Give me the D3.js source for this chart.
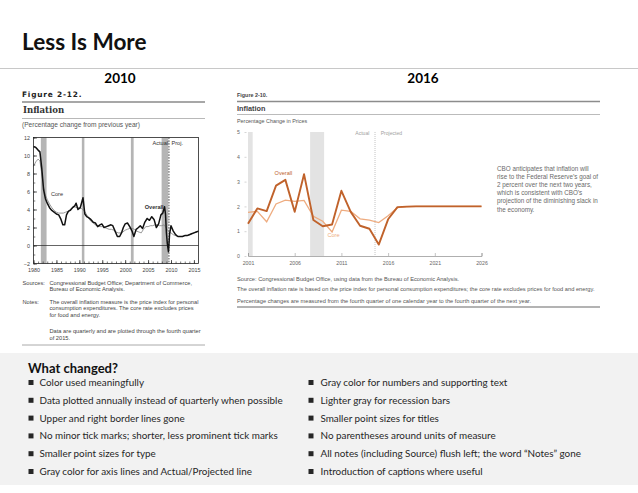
<!DOCTYPE html>
<html>
<head>
<meta charset="utf-8">
<script src="https://cdn.jsdelivr.net/npm/d3@7/dist/d3.min.js"></script>
<style>
  body { margin: 0; background: #fff; }
  svg { display: block; }
</style>
</head>
<body>
<div id="slide"></div>
<script>
// ---------------- 2010 figure ----------------
var oldOverallYears = [1980, 1980.5, 1981, 1981.4, 1981.8, 1982.2, 1982.6, 1983, 1983.5, 1984, 1984.5, 1985, 1985.5,
  1986, 1986.4, 1986.8, 1987.2, 1987.6, 1988, 1988.5, 1989, 1989.3, 1989.7, 1990.2, 1990.8, 1991.2, 1991.6, 1992,
  1992.5, 1993, 1993.5, 1994, 1994.5, 1994.9, 1995.4, 1995.9, 1996.4, 1996.9, 1997.3, 1997.8, 1998.3, 1998.8, 1999.2,
  1999.6, 2000, 2000.5, 2001, 2001.5, 2001.9, 2002.4, 2002.9, 2003.3, 2003.8, 2004.3, 2004.8, 2005.3, 2005.8, 2006.3,
  2006.8, 2007.3, 2007.8, 2008.2, 2008.6, 2008.8, 2009, 2009.2, 2009.45, 2009.7, 2010, 2010.5, 2011, 2011.5, 2012,
  2012.5, 2013, 2013.5, 2014, 2014.5, 2015, 2015.5, 2016];
var oldOverallValues = [11.0, 10.9, 10.6, 10.4, 8.6, 6.2, 5.2, 4.7, 4.2, 3.9, 3.7, 3.5, 3.4,
  2.9, 2.3, 2.3, 3.4, 3.8, 3.9, 4.2, 4.4, 4.7, 4.0, 4.2, 5.3, 3.5, 3.2, 3.1,
  2.9, 2.6, 2.5, 2.1, 2.3, 2.4, 2.0, 2.1, 2.2, 2.3, 2.2, 1.6, 1.0, 1.0, 1.4,
  2.0, 2.4, 2.5, 2.1, 1.6, 1.0, 1.8, 2.0, 2.2, 1.9, 2.6, 3.0, 2.8, 3.2, 2.9,
  2.0, 2.4, 3.4, 3.6, 4.3, 3.5, 1.4, 0.2, -0.7, 1.3, 2.2, 1.6, 1.2, 1.0, 1.0,
  1.0, 1.1, 1.1, 1.2, 1.3, 1.4, 1.5, 1.6];

var oldCoreYears = [1980, 1980.5, 1981, 1981.4, 1981.8, 1982.2, 1982.6, 1983, 1983.5, 1984, 1984.5, 1985, 1985.5,
  1986, 1986.5, 1987, 1987.5, 1988, 1988.5, 1989, 1989.5, 1990, 1990.5, 1991, 1991.5, 1992, 1992.5, 1993, 1993.5,
  1994, 1994.5, 1995, 1995.5, 1996, 1996.5, 1997, 1997.5, 1998, 1998.5, 1999, 1999.5, 2000, 2000.5, 2001, 2001.5,
  2002, 2002.5, 2003, 2003.5, 2004, 2004.5, 2005, 2005.5, 2006, 2006.5, 2007, 2007.5, 2008, 2008.5, 2009, 2009.5,
  2010, 2010.5, 2011, 2011.5, 2012, 2012.5, 2013, 2013.5, 2014, 2014.5, 2015, 2015.5, 2016];
var oldCoreValues = [8.8, 9.3, 9.6, 9.4, 8.0, 6.5, 5.6, 5.1, 4.6, 4.2, 3.9, 3.7, 3.6,
  3.6, 3.6, 3.7, 3.8, 4.0, 4.2, 4.3, 4.2, 4.2, 4.1, 3.9, 3.5, 3.1, 2.7, 2.5, 2.3,
  2.2, 2.1, 2.1, 2.0, 1.9, 1.8, 1.8, 1.7, 1.5, 1.4, 1.4, 1.5, 1.7, 1.8, 1.9, 1.9,
  1.8, 1.6, 1.5, 1.4, 1.8, 2.1, 2.1, 2.2, 2.2, 2.3, 2.3, 2.2, 2.2, 2.3, 1.9, 1.5,
  1.4, 1.2, 1.1, 1.0, 1.0, 1.0, 1.1, 1.1, 1.2, 1.3, 1.4, 1.5, 1.6];

var oldRecessions = [[1981.6, 1982.85], [1990.55, 1991.1], [2001.25, 2001.85], [2007.95, 2009.4]];
var oldYTicks = [-2, 0, 2, 4, 6, 8, 10, 12];
var oldXTicks = [1980, 1985, 1990, 1995, 2000, 2005, 2010, 2015];

// ---------------- 2016 figure (annual, Q4 to Q4) ----------------
var newYears = [2001, 2002, 2003, 2004, 2005, 2006, 2007, 2008, 2009, 2010, 2011, 2012, 2013,
  2014, 2015, 2016, 2017, 2018, 2019, 2020, 2021, 2022, 2023, 2024, 2025, 2026];
var newOverall = [1.3, 1.92, 1.81, 2.84, 3.07, 1.78, 3.3, 1.45, 1.2, 1.27, 2.63, 1.78, 1.22,
  1.1, 0.46, 1.48, 1.97, 1.99, 2.0, 2.0, 2.0, 2.0, 2.0, 2.0, 2.0, 2.0];
var newCore = [1.76, 1.8, 1.38, 2.1, 2.25, 2.2, 2.24, 1.6, 1.4, 0.97, 1.85, 1.8, 1.5,
  1.45, 1.35, 1.62, 1.95, 1.99, 2.0, 2.0, 2.0, 2.0, 2.0, 2.0, 2.0, 2.0];
var newRecessions = [[2001, 2001.5], [2007.65, 2009.15]];
var newYTicks = [0, 1, 2, 3, 4, 5];
var newXTicks = [2001, 2006, 2011, 2016, 2021, 2026];

var oldNotes = [
  ["Sources:", "Congressional Budget Office; Department of Commerce,"],
  ["", "Bureau of Economic Analysis."],
  ["Notes:", "The overall inflation measure is the price index for personal"],
  ["", "consumption expenditures. The core rate excludes prices"],
  ["", "for food and energy."],
  ["", "Data are quarterly and are plotted through the fourth quarter"],
  ["", "of 2015."]
];
var newNotes = [
  "Source: Congressional Budget Office, using data from the Bureau of Economic Analysis.",
  "The overall inflation rate is based on the price index for personal consumption expenditures; the core rate excludes prices for food and energy.",
  "Percentage changes are measured from the fourth quarter of one calendar year to the fourth quarter of the next year."
];
var newCaption = [
  "CBO anticipates that inflation will",
  "rise to the Federal Reserve\u2019s goal of",
  "2 percent over the next two years,",
  "which is consistent with CBO\u2019s",
  "projection of the diminishing slack in",
  "the economy."
];
var leftChanges = [
  "Color used meaningfully",
  "Data plotted annually instead of quarterly when possible",
  "Upper and right border lines gone",
  "No minor tick marks; shorter, less prominent tick marks",
  "Smaller point sizes for type",
  "Gray color for axis lines and Actual/Projected line"
];
var rightChanges = [
  "Gray color for numbers and supporting text",
  "Lighter gray for recession bars",
  "Smaller point sizes for titles",
  "No parentheses around units of measure",
  "All notes (including Source) flush left; the word \u201cNotes\u201d gone",
  "Introduction of captions where useful"
];

(function(){
  var W = 638, H = 493;
  var slideFont = "Lato, 'Open Sans', sans-serif";
  var sans = "'Liberation Sans', Arial, sans-serif";

  var svg = d3.select("#slide").append("svg")
              .attr("width", W)
              .attr("height", H);

  // slide title + rule
  svg.append("text")
     .attr("x", 22).attr("y", 50)
     .attr("font-family", slideFont).attr("font-weight", 700).attr("font-size", 22.6)
     .attr("fill", "#111")
     .text("Less Is More");
  svg.append("line")
     .attr("x1", 0).attr("x2", W).attr("y1", 68.5).attr("y2", 68.5)
     .attr("stroke", "#c8c8c8").attr("stroke-width", 1);

  svg.append("text")
     .attr("x", 120).attr("y", 83).attr("text-anchor", "middle")
     .attr("font-family", slideFont).attr("font-weight", 700).attr("font-size", 13.5)
     .text("2010");
  svg.append("text")
     .attr("x", 423).attr("y", 83).attr("text-anchor", "middle")
     .attr("font-family", slideFont).attr("font-weight", 700).attr("font-size", 13.5)
     .text("2016");

  //------------------- 2010 FIGURE -------------------------------------------
  var xL = d3.scaleLinear().domain([1980, 2016]).range([33.5, 198.5]);
  var yL = d3.scaleLinear().domain([-2, 12]).range([263.5, 137.5]);

  svg.append("text")
     .attr("x", 22).attr("y", 96.5)
     .attr("font-family", "'DejaVu Sans', sans-serif").attr("font-weight", 700).attr("font-size", 7.4)
     .attr("letter-spacing", 0.8)
     .attr("fill", "#222")
     .text("Figure 2-12.");
  svg.append("line")
     .attr("x1", 22).attr("x2", 205).attr("y1", 102).attr("y2", 102)
     .attr("stroke", "#8a8a8a").attr("stroke-width", 1.6);
  svg.append("text")
     .attr("x", 23).attr("y", 113)
     .attr("font-family", "'DejaVu Serif', serif").attr("font-weight", 700).attr("font-size", 8.6)
     .attr("fill", "#333")
     .text("Inflation");
  svg.append("line")
     .attr("x1", 22).attr("x2", 205).attr("y1", 118.5).attr("y2", 118.5)
     .attr("stroke", "#999").attr("stroke-width", 0.7);
  svg.append("text")
     .attr("x", 22).attr("y", 127)
     .attr("font-family", sans).attr("font-size", 6.6)
     .attr("fill", "#555")
     .text("(Percentage change from previous year)");

  var gL = svg.append("g");

  gL.selectAll("rect.rec")
    .data(oldRecessions)
    .enter().append("rect")
    .attr("class", "rec")
    .attr("x", function(d){ return xL(d[0]); })
    .attr("width", function(d){ return xL(d[1]) - xL(d[0]); })
    .attr("y", yL(12))
    .attr("height", yL(-2) - yL(12))
    .attr("fill", "#b5b5b5");

  // zero line
  gL.append("line")
    .attr("x1", xL(1980)).attr("x2", xL(2016))
    .attr("y1", yL(0)).attr("y2", yL(0))
    .attr("stroke", "#222").attr("stroke-width", 0.7);

  // actual / projected divider
  gL.append("line")
    .attr("x1", xL(2009.55)).attr("x2", xL(2009.55))
    .attr("y1", yL(12)).attr("y2", yL(-2))
    .attr("stroke", "#666").attr("stroke-width", 1.1)
    .attr("stroke-dasharray", "1.6,1.2");

  var lineOldCore = d3.line()
    .x(function(d, i){ return xL(oldCoreYears[i]); })
    .y(function(d){ return yL(d); });
  var lineOldOverall = d3.line()
    .x(function(d, i){ return xL(oldOverallYears[i]); })
    .y(function(d){ return yL(d); });

  gL.append("path")
    .datum(oldCoreValues)
    .attr("d", lineOldCore)
    .attr("fill", "none").attr("stroke", "#8c8c8c").attr("stroke-width", 0.9);
  gL.append("path")
    .datum(oldOverallValues)
    .attr("d", lineOldOverall)
    .attr("fill", "none").attr("stroke", "#111").attr("stroke-width", 1.5)
    .attr("stroke-linejoin", "round");

  // box
  gL.append("rect")
    .attr("x", xL(1980)).attr("y", yL(12))
    .attr("width", xL(2016) - xL(1980)).attr("height", yL(-2) - yL(12))
    .attr("fill", "none").attr("stroke", "#222").attr("stroke-width", 0.8);

  // minor + major ticks, pointing in
  gL.append("g")
    .attr("transform", "translate(0," + yL(-2) + ")")
    .call(d3.axisBottom(xL).tickValues(d3.range(1980, 2016)).tickSize(-2).tickFormat(""))
    .call(function(g){ g.select(".domain").remove(); g.selectAll("line").attr("stroke", "#222").attr("stroke-width", 0.6); });
  var axLX = gL.append("g")
    .attr("transform", "translate(0," + yL(-2) + ")")
    .call(d3.axisBottom(xL).tickValues(oldXTicks).tickSize(-3.5).tickPadding(5).tickFormat(d3.format("d")));
  axLX.select(".domain").remove();
  axLX.selectAll("line").attr("stroke", "#222").attr("stroke-width", 0.7);
  axLX.selectAll("text").attr("font-family", sans).attr("font-size", 5.4).attr("fill", "#444");

  gL.append("g")
    .attr("transform", "translate(" + xL(1980) + ",0)")
    .call(d3.axisLeft(yL).tickValues(d3.range(-2, 13)).tickSize(-1.8).tickFormat(""))
    .call(function(g){ g.select(".domain").remove(); g.selectAll("line").attr("stroke", "#222").attr("stroke-width", 0.6); });
  var axLY = gL.append("g")
    .attr("transform", "translate(" + xL(1980) + ",0)")
    .call(d3.axisLeft(yL).tickValues(oldYTicks).tickSize(-3.5).tickPadding(3.5));
  axLY.select(".domain").remove();
  axLY.selectAll("line").attr("stroke", "#222").attr("stroke-width", 0.7);
  axLY.selectAll("text").attr("font-family", sans).attr("font-size", 5.4).attr("fill", "#444");

  gL.append("text")
    .attr("x", xL(1983.8)).attr("y", yL(5.55))
    .attr("font-family", sans).attr("font-size", 5.6).attr("fill", "#333")
    .text("Core");
  gL.append("text")
    .attr("x", xL(2008.4)).attr("y", yL(4.1)).attr("text-anchor", "end")
    .attr("font-family", sans).attr("font-weight", 700).attr("font-size", 5.6).attr("fill", "#333")
    .text("Overall");
  gL.append("text")
    .attr("x", xL(2009.35)).attr("y", yL(11.2)).attr("text-anchor", "end")
    .attr("font-family", sans).attr("font-size", 5.6).attr("fill", "#333")
    .text("Actual");
  gL.append("text")
    .attr("x", xL(2010.1)).attr("y", yL(11.2))
    .attr("font-family", sans).attr("font-size", 5.6).attr("fill", "#333")
    .text("Proj.");

  var oldNoteY = [284.5, 291, 303.5, 310, 317, 333, 339.5];
  oldNotes.forEach(function(n, i) {
    if (n[0]) {
      svg.append("text").attr("x", 22.5).attr("y", oldNoteY[i])
         .attr("font-family", sans).attr("font-size", 5.7).attr("fill", "#444")
         .text(n[0]);
    }
    svg.append("text").attr("x", 49.5).attr("y", oldNoteY[i])
       .attr("font-family", sans).attr("font-size", 5.7).attr("fill", "#444")
       .text(n[1]);
  });
  svg.append("line")
     .attr("x1", 22).attr("x2", 205).attr("y1", 345).attr("y2", 345)
     .attr("stroke", "#aaa").attr("stroke-width", 1);

  //------------------- 2016 FIGURE -------------------------------------------
  var xR = d3.scaleLinear().domain([2001, 2026]).range([248, 481.5]);
  var yR = d3.scaleLinear().domain([0, 5]).range([256, 132]);
  var dark = "#c0622b", light = "#eeac80";

  svg.append("text")
     .attr("x", 237).attr("y", 97)
     .attr("font-family", sans).attr("font-weight", 700).attr("font-size", 5.4)
     .attr("fill", "#444")
     .text("Figure 2-10.");
  svg.append("line")
     .attr("x1", 237).attr("x2", 600).attr("y1", 101.5).attr("y2", 101.5)
     .attr("stroke", "#8c8c8c").attr("stroke-width", 1.4);
  svg.append("text")
     .attr("x", 237).attr("y", 110.5)
     .attr("font-family", sans).attr("font-weight", 700).attr("font-size", 7.3)
     .attr("fill", "#444")
     .text("Inflation");
  svg.append("line")
     .attr("x1", 237).attr("x2", 600).attr("y1", 114.5).attr("y2", 114.5)
     .attr("stroke", "#aaa").attr("stroke-width", 0.8);
  svg.append("text")
     .attr("x", 237).attr("y", 123)
     .attr("font-family", sans).attr("font-size", 5.4)
     .attr("fill", "#555")
     .text("Percentage Change in Prices");

  var gR = svg.append("g");

  gR.selectAll("rect.rec")
    .data(newRecessions)
    .enter().append("rect")
    .attr("class", "rec")
    .attr("x", function(d){ return xR(d[0]); })
    .attr("width", function(d){ return xR(d[1]) - xR(d[0]); })
    .attr("y", yR(5))
    .attr("height", yR(0) - yR(5))
    .attr("fill", "#e3e3e3");

  gR.append("line")
    .attr("x1", xR(2014.6)).attr("x2", xR(2014.6))
    .attr("y1", yR(5)).attr("y2", yR(0))
    .attr("stroke", "#9a9a9a").attr("stroke-width", 0.6)
    .attr("stroke-dasharray", "1,1");
  gR.append("text")
    .attr("x", xR(2014.0)).attr("y", yR(4.88)).attr("text-anchor", "end")
    .attr("font-family", sans).attr("font-size", 5.1).attr("fill", "#a0a0a0")
    .text("Actual");
  gR.append("text")
    .attr("x", xR(2015.2)).attr("y", yR(4.88))
    .attr("font-family", sans).attr("font-size", 5.1).attr("fill", "#a0a0a0")
    .text("Projected");

  var axRX = gR.append("g")
    .attr("transform", "translate(0," + yR(0) + ")")
    .call(d3.axisBottom(xR).tickValues(newXTicks).tickSize(-3).tickPadding(5).tickFormat(d3.format("d")));
  axRX.select(".domain").attr("stroke", "#9a9a9a").attr("stroke-width", 0.8);
  axRX.selectAll("line").attr("stroke", "#9a9a9a").attr("stroke-width", 0.6);
  axRX.selectAll("text").attr("font-family", sans).attr("font-size", 5.2).attr("fill", "#666");

  var axRY = gR.append("g")
    .attr("transform", "translate(" + (xR(2001) - 1.5) + ",0)")
    .call(d3.axisLeft(yR).tickValues(newYTicks).tickSize(2).tickPadding(4.5).tickFormat(d3.format("d")));
  axRY.select(".domain").remove();
  axRY.selectAll("line").attr("stroke", "#aaa").attr("stroke-width", 0.5);
  axRY.selectAll("text").attr("font-family", sans).attr("font-size", 5.2).attr("fill", "#666");

  var lineNew = function(values) {
    return d3.line()
      .x(function(d, i){ return xR(newYears[i]); })
      .y(function(d){ return yR(d); })(values);
  };
  gR.append("path")
    .attr("d", lineNew(newCore))
    .attr("fill", "none").attr("stroke", light).attr("stroke-width", 1.3);
  gR.append("path")
    .attr("d", lineNew(newOverall))
    .attr("fill", "none").attr("stroke", dark).attr("stroke-width", 1.9)
    .attr("stroke-linejoin", "round");

  gR.append("text")
    .attr("x", xR(2003.85)).attr("y", yR(3.25))
    .attr("font-family", sans).attr("font-size", 5.6).attr("fill", dark)
    .text("Overall");
  gR.append("text")
    .attr("x", xR(2009.5)).attr("y", yR(0.75))
    .attr("font-family", sans).attr("font-size", 5.6).attr("fill", light)
    .text("Core");

  var capY = 171;
  newCaption.forEach(function(t, i) {
    svg.append("text").attr("x", 497).attr("y", capY + i * 8.1)
       .attr("font-family", sans).attr("font-size", 6.3).attr("fill", "#6a6a6a")
       .text(t);
  });

  var newNoteY = [281, 291, 302.5];
  newNotes.forEach(function(t, i) {
    svg.append("text").attr("x", 237).attr("y", newNoteY[i])
       .attr("font-family", sans).attr("font-size", 5.7).attr("fill", "#555")
       .text(t);
  });
  svg.append("line")
     .attr("x1", 237).attr("x2", 600).attr("y1", 307).attr("y2", 307)
     .attr("stroke", "#9a9a9a").attr("stroke-width", 1.3);

  //------------------- WHAT CHANGED -------------------------------------------
  svg.append("rect")
     .attr("x", 0).attr("y", 353).attr("width", W).attr("height", 132)
     .attr("fill", "#f2f2f2");
  svg.append("text")
     .attr("x", 28).attr("y", 373)
     .attr("font-family", slideFont).attr("font-weight", 700).attr("font-size", 13)
     .attr("fill", "#111")
     .text("What changed?");

  var rowY = d3.scaleLinear().domain([0, 5]).range([386, 475]);
  function bulletList(items, bx, tx) {
    items.forEach(function(t, i) {
      var y = rowY(i);
      svg.append("rect").attr("x", bx).attr("y", y - 6).attr("width", 5).attr("height", 5)
         .attr("fill", "#262626");
      svg.append("text").attr("x", tx).attr("y", y)
         .attr("font-family", slideFont).attr("font-size", 9.9).attr("fill", "#262626")
         .text(t);
    });
  }
  bulletList(leftChanges, 28.5, 39.5);
  bulletList(rightChanges, 308.5, 320.5);

  console.log("slide drawn");
})();
</script>
</body>
</html>
